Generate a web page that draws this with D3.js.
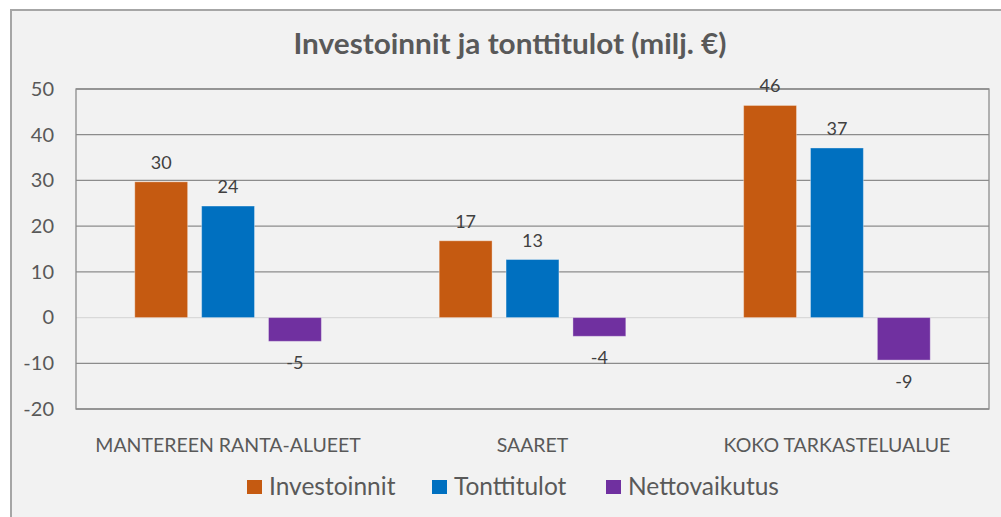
<!DOCTYPE html>
<html>
<head>
<meta charset="utf-8">
<script src="https://cdn.jsdelivr.net/npm/d3@7"></script>
<style>
  body { margin: 0; background: #fff; }
  text { font-family: Lato, "Open Sans", sans-serif; }
</style>
</head>
<body>
<div id="chart"></div>
<script>
const categories = ["MANTEREEN RANTA-ALUEET", "SAARET", "KOKO TARKASTELUALUE"];
const seriesNames = ["Investoinnit", "Tonttitulot", "Nettovaikutus"];
const investoinnit = [29.7, 16.8, 46.4];
const tonttitulot = [24.4, 12.7, 37.1];
const nettovaikutus = [-5.2, -4.1, -9.3];
const yTicks = [-20, -10, 0, 10, 20, 30, 40, 50];
const colors = ["#c55a11", "#0070c0", "#7030a0"];

const width = 1001, height = 517;
const margin = { top: 89, right: 12, bottom: 108, left: 76 };
const plotW = width - margin.left - margin.right;
const plotH = height - margin.top - margin.bottom;

// plain hyphen for negatives, like the original
const fmt = v => String(Math.round(v));

const svg = d3.select("#chart").append("svg")
    .attr("width", width)
    .attr("height", height);

// chart frame
svg.append("rect")
    .attr("x", 11).attr("y", 10)
    .attr("width", width).attr("height", height)
    .attr("fill", "#f2f2f2")
    .attr("stroke", "#a6a6a6")
    .attr("stroke-width", 2);

svg.append("text")
    .attr("x", 510).attr("y", 54)
    .attr("text-anchor", "middle")
    .attr("font-size", 28)
    .attr("font-weight", "bold")
    .attr("fill", "#595959")
    .attr("textLength", 433)
    .attr("lengthAdjust", "spacingAndGlyphs")
    .text("Investoinnit ja tonttitulot (milj. €)");

const g = svg.append("g").attr("transform", `translate(${margin.left},${margin.top})`);

const y = d3.scaleLinear().domain([-20, 50]).range([plotH, 0]);
const x0 = d3.scaleBand().domain(categories).range([0, plotW])
    .paddingInner(0.387).paddingOuter(0.193);
const x1 = d3.scaleBand().domain(seriesNames).range([0, x0.bandwidth()])
    .paddingInner(0.209).paddingOuter(0);

// gridlines
g.selectAll(".grid")
    .data(yTicks)
    .enter().append("line")
    .attr("class", "grid")
    .attr("x1", 0).attr("x2", plotW)
    .attr("y1", d => y(d)).attr("y2", d => y(d))
    .attr("stroke", d => d === 0 ? "#d9d9d9" : "#8c8c8c")
    .attr("stroke-width", 1.3);

// plot border
g.append("rect")
    .attr("width", plotW).attr("height", plotH)
    .attr("fill", "none")
    .attr("stroke", "#8c8c8c")
    .attr("stroke-width", 1.3);

// y axis labels
const yAxis = g.append("g")
    .call(d3.axisLeft(y).tickValues(yTicks).tickFormat(fmt).tickSize(0).tickPadding(22));
yAxis.select(".domain").remove();
yAxis.selectAll("text")
    .attr("font-size", 20)
    .attr("fill", "#595959")
    .style("font-family", "Lato, sans-serif");

// category labels
const xAxis = g.append("g")
    .attr("transform", `translate(0,${plotH})`)
    .call(d3.axisBottom(x0).tickSize(0).tickPadding(29));
xAxis.select(".domain").remove();
xAxis.selectAll("text")
    .attr("font-size", 19.5)
    .attr("fill", "#595959")
    .style("font-family", "Lato, sans-serif");

const rows = categories.map((c, i) => ({
    category: c,
    values: [investoinnit[i], tonttitulot[i], nettovaikutus[i]]
}));

const groups = g.selectAll(".group")
    .data(rows)
    .enter().append("g")
    .attr("class", "group")
    .attr("transform", d => `translate(${x0(d.category)},0)`);

const bars = groups.selectAll(".bar")
    .data(d => d.values.map((v, k) => ({ name: seriesNames[k], value: v, k: k })))
    .enter();

bars.append("rect")
    .attr("class", "bar")
    .attr("x", d => x1(d.name))
    .attr("width", x1.bandwidth())
    .attr("y", d => y(Math.max(0, d.value)))
    .attr("height", d => Math.abs(y(d.value) - y(0)))
    .attr("fill", d => colors[d.k])
    .attr("stroke", "rgba(255,255,255,0.35)")
    .attr("stroke-width", 1);

bars.append("text")
    .attr("x", d => x1(d.name) + x1.bandwidth() / 2)
    .attr("y", d => d.value >= 0 ? y(d.value) - 13 : y(d.value) + 28)
    .attr("text-anchor", "middle")
    .attr("font-size", 18)
    .attr("fill", "#404040")
    .text(d => fmt(d.value));

// legend
const legendX = [247, 432, 606];
const legend = svg.selectAll(".legend")
    .data(seriesNames)
    .enter().append("g")
    .attr("class", "legend")
    .attr("transform", (d, i) => `translate(${legendX[i]},480)`);
legend.append("rect")
    .attr("width", 15).attr("height", 14)
    .attr("fill", (d, i) => colors[i]);
legend.append("text")
    .attr("x", 22).attr("y", 15)
    .attr("font-size", 24.5)
    .attr("fill", "#595959")
    .text(d => d);
</script>
</body>
</html>
